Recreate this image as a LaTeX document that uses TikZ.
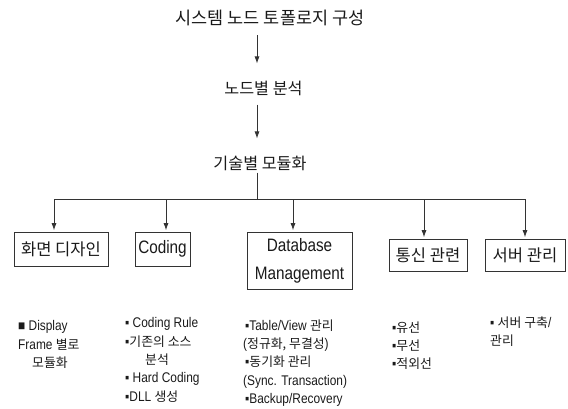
\documentclass[tikz,border=0pt]{standalone}
\usepackage{fontspec}
\setmainfont[FakeStretch=0.85]{Liberation Sans}
\newfontfamily\kr[Scale=0.92]{Noto Sans CJK KR}
\newcommand\ko[1]{{\kr #1}}
\usetikzlibrary{arrows.meta,positioning}
\definecolor{ink}{HTML}{1A1A1A}
\definecolor{rule}{HTML}{333333}
\tikzset{
  stage/.style={font=\kr\fontsize{17.6}{22}\selectfont,text=ink,inner xsep=0pt,inner ysep=9pt},
  box/.style={draw=rule,line width=0.6pt,inner xsep=3pt,inner ysep=0pt,font=\fontsize{18}{28}\selectfont,text=ink},
  small/.style={font=\fontsize{14}{18.3}\selectfont,text=ink,align=left,inner sep=0pt,anchor=north west},
  line/.style={draw=rule,line width=0.7pt},
  arr/.style={-{Latex[length=7pt,width=5pt]},draw=rule,line width=0.8pt,shorten >=8pt},
  arrdown/.style={-{Latex[length=7pt,width=5pt]},draw=rule,line width=0.8pt,shorten >=1.5pt}
}

\begin{document}
\begin{tikzpicture}[x=1pt,y=-1pt]
\path[use as bounding box] (0,0) rectangle (568,408);
% flow
\node[stage,font=\kr\fontsize{19}{22}\selectfont] (topo) at (270,18) {시스템 노드 토폴로지 구성};
\node[stage] (bynode) at (263.5,88) {노드별 분석};
\node[stage] (modul) at (260,163) {기술별 모듈화};
\coordinate (spine) at (257,0);
\draw[arr] (topo.south -| spine) -- (bynode.north -| spine);
\draw[arr] (bynode.south -| spine) -- (modul.north -| spine);

% branches
\coordinate (b1) at (54,199);
\coordinate (b2) at (166,199);
\coordinate (b3) at (293,199);
\coordinate (b4) at (424,199);
\coordinate (b5) at (525,199);
\draw[line,shorten <=-7pt] (modul.south -| spine) -- (spine |- b1);
\draw[line] (b1) -- (b5);

\node[box,minimum width=94pt,minimum height=34pt] (screen) at (61,249) {\ko{화면 디자인}};
\node[box,minimum width=55pt,minimum height=34pt] (coding) at (162.5,249) {Coding};
\node[box,minimum width=105pt,minimum height=57pt,align=center] (dbm) at (299.5,260.5) {Database\\Management};
\node[box,minimum width=78pt,minimum height=32pt] (comm) at (428,255) {\ko{통신 관련}};
\node[box,minimum width=80pt,minimum height=32pt] (server) at (525,255) {\ko{서버 관리}};

\foreach \b/\n in {b1/screen,b2/coding,b3/dbm,b4/comm,b5/server}
  \draw[arrdown] (\b) -- (\b |- \n.north);

% notes
\node[small] (scrnote) at (18,320.5) {■ Display\\Frame \ko{별로}\\\hspace*{14pt}\ko{모듈화}};
\node[small] (codnote) at (125,317.5) {▪ Coding Rule\\▪\ko{기존의 소스}\\\hspace*{20pt}\ko{분석}\\▪ Hard Coding\\▪DLL \ko{생성}};
\node[small] (dbnote) at (243,319.5) {\hspace*{2pt}▪Table/View \ko{관리}\\(\ko{정규화, 무결성})\\\hspace*{2pt}▪\ko{동기화 관리}\\(Sync. Transaction)\\\hspace*{2pt}▪Backup/Recovery};
\node[small] (comnote) at (392,321.5) {▪\ko{유선}\\▪\ko{무선}\\▪\ko{적외선}};
\node[small] (srvnote) at (490,316.5) {▪ \ko{서버 구축}/\\\ko{관리}};
\end{tikzpicture}
\end{document}
